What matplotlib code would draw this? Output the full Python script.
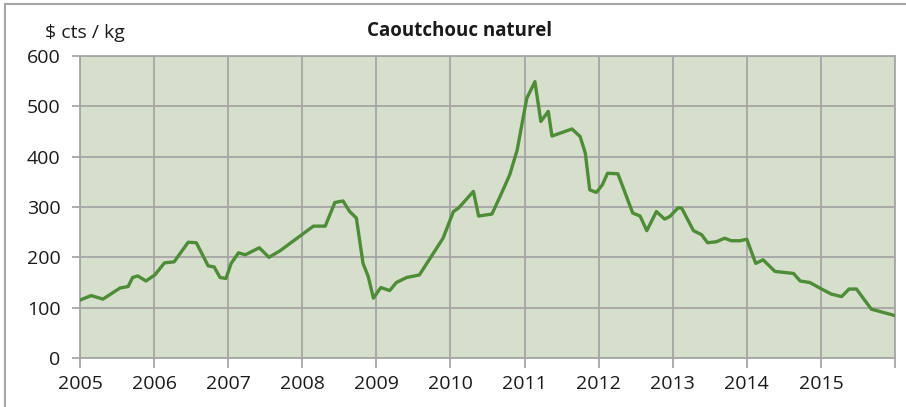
import matplotlib
matplotlib.use("Agg")
import matplotlib.pyplot as plt
from matplotlib.lines import Line2D

years = [2005.00, 2005.15, 2005.31, 2005.54, 2005.65, 2005.71, 2005.78, 2005.89,
         2006.01, 2006.14, 2006.27, 2006.46, 2006.57, 2006.73, 2006.81, 2006.89, 2006.97,
         2007.04, 2007.14, 2007.23, 2007.42, 2007.55, 2007.70,
         2008.15, 2008.31, 2008.44, 2008.55, 2008.64, 2008.73, 2008.82, 2008.89, 2008.96,
         2009.06, 2009.18, 2009.27, 2009.41, 2009.58, 2009.90,
         2010.04, 2010.11, 2010.31, 2010.38, 2010.56, 2010.67, 2010.80, 2010.90,
         2011.03, 2011.14, 2011.22, 2011.32, 2011.37, 2011.64, 2011.75, 2011.82, 2011.88, 2011.97,
         2012.05, 2012.12, 2012.26, 2012.46, 2012.56, 2012.65, 2012.78, 2012.89, 2012.96,
         2013.07, 2013.12, 2013.28, 2013.39, 2013.47, 2013.59, 2013.70, 2013.79, 2013.91,
         2014.00, 2014.12, 2014.22, 2014.38, 2014.63, 2014.72, 2014.85,
         2015.01, 2015.14, 2015.28, 2015.38, 2015.48, 2015.68, 2015.98]
prices = [115, 124, 117, 139, 142, 160, 163, 153,
          165, 189, 191, 230, 229, 183, 181, 160, 158,
          188, 209, 205, 219, 200, 213,
          262, 262, 309, 312, 291, 278, 188, 162, 119,
          140, 134, 150, 160, 165, 238,
          291, 298, 331, 282, 286, 321, 364, 413,
          516, 549, 470, 490, 441, 455, 440, 407, 334, 329,
          344, 367, 366, 288, 282, 253, 291, 276, 281,
          298, 298, 253, 245, 229, 231, 238, 233, 233,
          236, 188, 195, 172, 168, 153, 150,
          137, 127, 122, 137, 137, 97, 85]

x_ticks = list(range(2005, 2017))
x_labels = [str(y) for y in range(2005, 2016)] + [""]
y_ticks = [0, 100, 200, 300, 400, 500, 600]

title = "Caoutchouc naturel"
unit = "$ cts / kg"

plt.rcParams['font.family'] = ['Open Sans', 'DejaVu Sans']

W, H = 906, 407
fig = plt.figure(figsize=(W / 100, H / 100), dpi=100)
ax = fig.add_axes([80 / W, 1 - 358 / H, (895 - 80) / W, (358 - 56) / H])

grid_c = "#A6A6A6"
ax.set_facecolor("#D6DFCB")
ax.plot(years, prices, color="#4E8C38", lw=2.4, solid_joinstyle="round", zorder=3)

ax.set_xlim(2005, 2016)
ax.set_ylim(0, 600)
ax.set_xticks(x_ticks)
ax.set_xticklabels(x_labels)
ax.set_yticks(y_ticks)
ax.grid(True, color=grid_c, lw=1.3, zorder=1)
ax.set_axisbelow(True)
for s in ax.spines.values():
    s.set_color(grid_c)
    s.set_linewidth(1.3)
ax.tick_params(axis="both", colors=grid_c, labelcolor="#1a1a1a", labelsize=14, width=1.3)
ax.tick_params(axis="x", length=7, pad=5)
ax.tick_params(axis="y", length=6, pad=8)

fig.text(460 / W, 1 - 31 / H, title, ha="center", va="center", fontsize=13.5, fontweight="bold", color="#1a1a1a")
fig.text(45 / W, 1 - 33 / H, unit, ha="left", va="center", fontsize=14, color="#1a1a1a")

fig.add_artist(Line2D([4.5 / W, 4.5 / W], [0, 1 - 3.5 / H], transform=fig.transFigure, color=grid_c, lw=1.5))
fig.add_artist(Line2D([4.5 / W, 1], [1 - 3.5 / H, 1 - 3.5 / H], transform=fig.transFigure, color=grid_c, lw=1.5))

fig.savefig("out.png", dpi=100)
